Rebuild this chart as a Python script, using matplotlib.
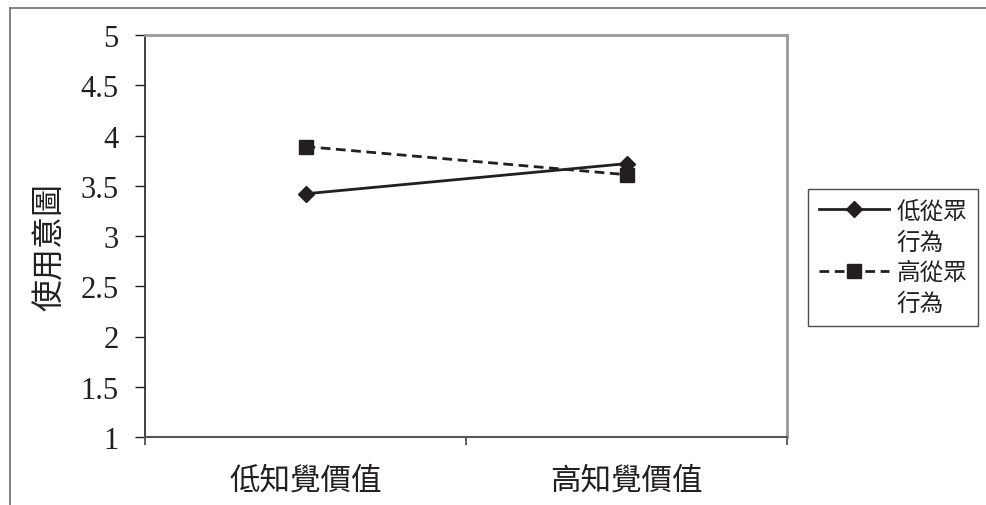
import matplotlib
matplotlib.use("Agg")
import matplotlib.pyplot as plt
from matplotlib.lines import Line2D

categories = ["低知覺價值", "高知覺價值"]
series_names = ["低從眾\n行為", "高從眾\n行為"]
low_conformity = [3.42, 3.72]
high_conformity = [3.89, 3.61]
y_ticks = [1, 1.5, 2, 2.5, 3, 3.5, 4, 4.5, 5]
y_tick_labels = ["1", "1.5", "2", "2.5", "3", "3.5", "4", "4.5", "5"]
y_label = "使用意圖"

cjk = ["Noto Sans CJK TC", "DejaVu Sans"]
serif = ["Liberation Serif", "DejaVu Serif"]
ink = "#231f20"

fig = plt.figure(figsize=(9.86, 5.06), dpi=100)
ax = fig.add_axes([145/986, 1-438/506, (787-145)/986, (438-36)/506])

x = list(range(len(categories)))
h1, = ax.plot(x, low_conformity, color=ink, lw=2, marker="D", ms=8,
              mfc=ink, mec=ink, label=series_names[0])
h2, = ax.plot(x, high_conformity, color=ink, lw=2, ls=(0, (3.5, 2)), marker="s", ms=10,
              mfc=ink, mec=ink, label=series_names[1])

ax.set_xlim(-0.5, 1.5)
ax.set_ylim(1, 5)
ax.set_yticks(y_ticks)
ax.set_yticklabels(y_tick_labels, fontfamily=serif, fontsize=22, color=ink)
ax.set_xticks([-0.5, 0.5, 1.5])
ax.set_xticklabels([])
ax.set_xticks(x, minor=True)
ax.set_xticklabels(categories, minor=True, fontfamily=cjk, fontsize=22,
                   color=ink, fontweight="light")
ax.tick_params(axis="x", which="minor", length=0, pad=20)
ax.tick_params(axis="x", which="major", direction="out", length=6, width=1.2, color="#444444")
ax.tick_params(axis="y", direction="out", length=7, width=1, color=ink, pad=12)

ax.spines["left"].set_color(ink)
ax.spines["left"].set_linewidth(1.2)
ax.spines["bottom"].set_color("#555555")
ax.spines["bottom"].set_linewidth(1.5)
for s in ("top", "right"):
    ax.spines[s].set_color("#999999")
    ax.spines[s].set_linewidth(2)

fig.text(50/986, 1-247/506, y_label, rotation=90, ha="center", va="center",
         fontfamily=cjk, fontsize=23, color=ink, fontweight="light")

# legend rows: label text wraps onto a second line under the handle row
blank = Line2D([], [], color="none")
handles, labels = [], []
for h, name in zip([h1, h2], series_names):
    parts = name.split("\n")
    handles += [h, blank]
    labels += parts
leg = fig.legend(handles, labels, loc="upper left", bbox_to_anchor=(808/986, 1-190/506),
                 prop={"family": cjk, "size": 17, "weight": "light"},
                 frameon=True, fancybox=False, edgecolor=ink,
                 handlelength=3.0, handletextpad=0.3, borderpad=0.45,
                 labelspacing=0.33, borderaxespad=0)
leg.get_frame().set_linewidth(1)
for t in leg.get_texts():
    t.set_color(ink)

# outer chart-area border (cropped)
fig.add_artist(Line2D([10/986, 1], [1-9/506, 1-9/506], transform=fig.transFigure,
                      color="#6d6d6d", lw=1.2))
fig.add_artist(Line2D([10/986, 10/986], [1-9/506, 0], transform=fig.transFigure,
                      color="#6d6d6d", lw=1.2))

fig.savefig("out.png", dpi=100)
